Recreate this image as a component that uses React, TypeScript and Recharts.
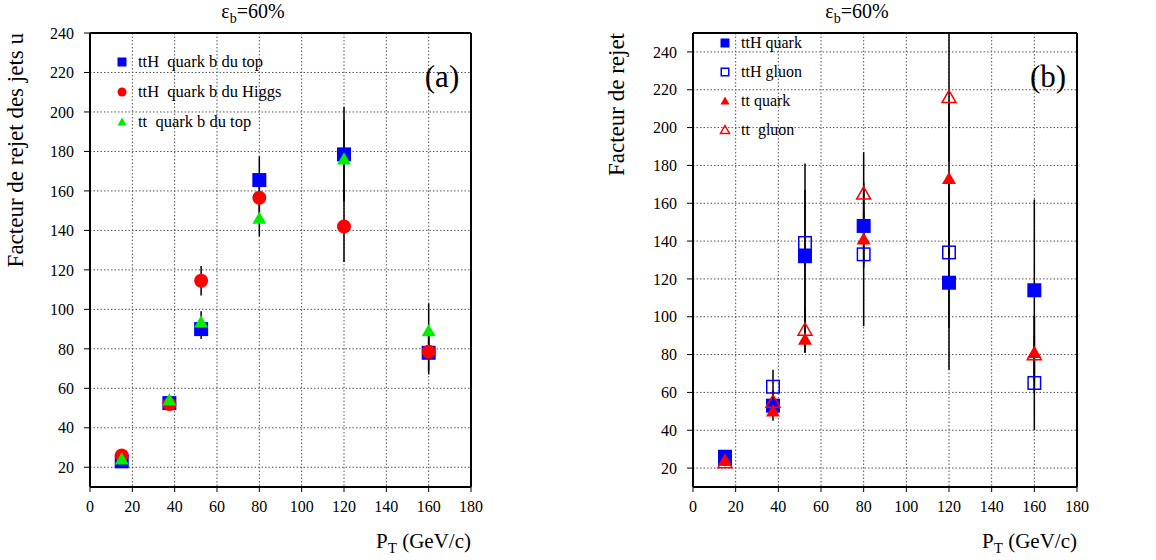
import React from "react"
import { ScatterChart, Scatter, XAxis, YAxis, CartesianGrid, ErrorBar, ReferenceLine } from "recharts"

// bins in P_T (GeV/c)
const ptBins = [15, 37.5, 52.5, 80, 120, 160]
const xTicks = [0, 20, 40, 60, 80, 100, 120, 140, 160, 180]
const yTicks = [20, 40, 60, 80, 100, 120, 140, 160, 180, 200, 220, 240]

// panel (a) : rejet des jets u
const ttHTopB = [23, 52.5, 90, 165.5, 178.5, 78]
const ttHTopBErr = [1, 2, 5, 12, 24, 9]
const ttHHiggsB = [26, 52, 114.5, 156.5, 142, 78.5]
const ttHHiggsBErr = [1, 2, 7.5, 10, 18, 11.5]
const ttTopB = [24, 54, 93.5, 146, 176, 89]
const ttTopBErr = [1, 2, 5.5, 9, 20, 14]

// panel (b) : quark / gluon
const ttHQuark = [26, 53, 132, 148, 118, 114]
const ttHQuarkErr = [2, 4, 35, 20, 46, 48]
const ttHGluon = [25, 63, 139, 133, 134, 65]
const ttHGluonErr = [2, 9, 42, 38, 40, 25]
const ttQuark = [24, 50, 88, 141, 173, 81]
const ttQuarkErr = [1, 5, 7, 15, 40, 20]
const ttGluon = [23, 55, 93, 165, 216, 80]
const ttGluonErr = [2, 6, 12, 22, 34, 20]

const FONT = '"Liberation Serif", serif'

type Kind = "square" | "openSquare" | "circle" | "triangle" | "openTriangle"

const toPoints = (ys: number[], errs: number[]) =>
  ptBins.map((x, i) => ({ x, y: ys[i], err: errs[i] }))

function Marker({ kind, color, cx, cy, size }: { kind: Kind; color: string; cx: number; cy: number; size: number }) {
  const h = size / 2
  if (kind === "square") return <rect x={cx - h} y={cy - h} width={size} height={size} fill={color} />
  if (kind === "openSquare")
    return <rect x={cx - h + 0.75} y={cy - h + 0.75} width={size - 1.5} height={size - 1.5} fill="#fff" fillOpacity={0} stroke={color} strokeWidth={1.5} />
  if (kind === "circle") return <circle cx={cx} cy={cy} r={h} fill={color} />
  const pts = `${cx},${cy - h} ${cx + h},${cy + h * 0.75} ${cx - h},${cy + h * 0.75}`
  if (kind === "triangle") return <polygon points={pts} fill={color} />
  return <polygon points={pts} fill="none" stroke={color} strokeWidth={1.5} />
}

type Series = { name: string; kind: Kind; color: string; ys: number[]; errs: number[] }

const seriesA: Series[] = [
  { name: "ttH  quark b du top", kind: "square", color: "#0000ff", ys: ttHTopB, errs: ttHTopBErr },
  { name: "ttH  quark b du Higgs", kind: "circle", color: "#ff0000", ys: ttHHiggsB, errs: ttHHiggsBErr },
  { name: "tt  quark b du top", kind: "triangle", color: "#00ee00", ys: ttTopB, errs: ttTopBErr },
]

const seriesB: Series[] = [
  { name: "ttH quark", kind: "square", color: "#0000ff", ys: ttHQuark, errs: ttHQuarkErr },
  { name: "ttH gluon", kind: "openSquare", color: "#0000ff", ys: ttHGluon, errs: ttHGluonErr },
  { name: "tt quark", kind: "triangle", color: "#ff0000", ys: ttQuark, errs: ttQuarkErr },
  { name: "tt  gluon", kind: "openTriangle", color: "#ff0000", ys: ttGluon, errs: ttGluonErr },
]

type PanelProps = {
  left: number
  width: number
  marginLeft: number
  marginRight: number
  yMax: number
  yLabel: string
  yLabelX: number
  titleX: number
  tag: string
  tagX: number
  series: Series[]
  legendX: number
  legendY: number
  legendRow: number
  legendFont: number
}

function Panel(p: PanelProps) {
  const plotRight = p.width - p.marginRight
  return (
    <div style={{ position: "absolute", left: p.left, top: 0, width: p.width, height: 560, fontFamily: FONT }}>
      <ScatterChart width={p.width} height={560} margin={{ top: 33, right: p.marginRight, left: p.marginLeft - 50, bottom: 43 }} style={{ fontFamily: FONT }}>
        <CartesianGrid stroke="#555" strokeDasharray="1.5 2" />
        <XAxis
          type="number"
          dataKey="x"
          domain={[0, 180]}
          ticks={xTicks}
          height={30}
          tickSize={5}
          tickMargin={9}
          tick={{ fill: "#000", fontSize: 16, fontFamily: FONT }}
          axisLine={{ stroke: "#000", strokeWidth: 2 }}
          tickLine={{ stroke: "#000" }}
          label={{
            content: () => (
              <text x={plotRight} y={548} textAnchor="end" fontFamily={FONT} fontSize={21} fill="#000">
                P<tspan fontSize={15} dy={5}>T</tspan>
                <tspan dy={-5}> (GeV/c)</tspan>
              </text>
            ),
          }}
        />
        <YAxis
          type="number"
          dataKey="y"
          domain={[10, p.yMax]}
          ticks={yTicks}
          allowDataOverflow
          width={50}
          tickSize={6}
          tickMargin={10}
          tick={{ fill: "#000", fontSize: 16, fontFamily: FONT }}
          axisLine={{ stroke: "#000", strokeWidth: 2 }}
          tickLine={{ stroke: "#000" }}
          label={{
            content: () => (
              <text transform={`translate(${p.yLabelX},33) rotate(-90)`} textAnchor="end" fontFamily={FONT} fontSize={23} fill="#000">
                {p.yLabel}
              </text>
            ),
          }}
        />
        <ReferenceLine x={180} stroke="#000" strokeWidth={2} />
        <ReferenceLine y={p.yMax} stroke="#000" strokeWidth={2} />
        {p.series.map((s) => (
          <Scatter
            key={s.name}
            name={s.name}
            data={toPoints(s.ys, s.errs)}
            isAnimationActive={false}
            shape={(d: any) => <Marker kind={s.kind} color={s.color} cx={d.cx} cy={d.cy} size={14} />}
          >
            <ErrorBar dataKey="err" direction="y" width={0} stroke="#000" strokeWidth={1.5} isAnimationActive={false} />
          </Scatter>
        ))}
      </ScatterChart>

      <div style={{ position: "absolute", left: p.titleX - 60, width: 120, top: -1, textAlign: "center", fontFamily: FONT, fontSize: 20, lineHeight: "24px" }}>
        ε<sub style={{ fontSize: 14 }}>b</sub>=60%
      </div>
      <div style={{ position: "absolute", left: p.tagX - 30, width: 60, top: 57, textAlign: "center", fontFamily: FONT, fontSize: 31, lineHeight: "40px" }}>
        {p.tag}
      </div>
      <div style={{ position: "absolute", left: p.legendX - 6, top: p.legendY - p.legendRow / 2, fontFamily: FONT, fontSize: p.legendFont }}>
        {p.series.map((s) => (
          <div key={s.name} style={{ height: p.legendRow, display: "flex", alignItems: "center", whiteSpace: "pre" }}>
            <svg width={12} height={12} style={{ marginRight: 10 }}>
              <Marker kind={s.kind} color={s.color} cx={6} cy={6} size={9} />
            </svg>
            {s.name}
          </div>
        ))}
      </div>
    </div>
  )
}

export default function App() {
  return (
    <div style={{ position: "absolute", left: 0, top: 0, width: 1156, height: 560, background: "#fff", fontFamily: FONT }}>
      <Panel
        left={0}
        width={580}
        marginLeft={90}
        marginRight={109}
        yMax={240}
        yLabel="Facteur de rejet des jets u"
        yLabelX={23}
        titleX={253}
        tag="(a)"
        tagX={442}
        series={seriesA}
        legendX={122}
        legendY={62}
        legendRow={30}
        legendFont={16.5}
      />
      <Panel
        left={580}
        width={576}
        marginLeft={113}
        marginRight={79}
        yMax={250}
        yLabel="Facteur de rejet"
        yLabelX={44}
        titleX={277}
        tag="(b)"
        tagX={468}
        series={seriesB}
        legendX={145}
        legendY={43}
        legendRow={29}
        legendFont={16}
      />
    </div>
  )
}
